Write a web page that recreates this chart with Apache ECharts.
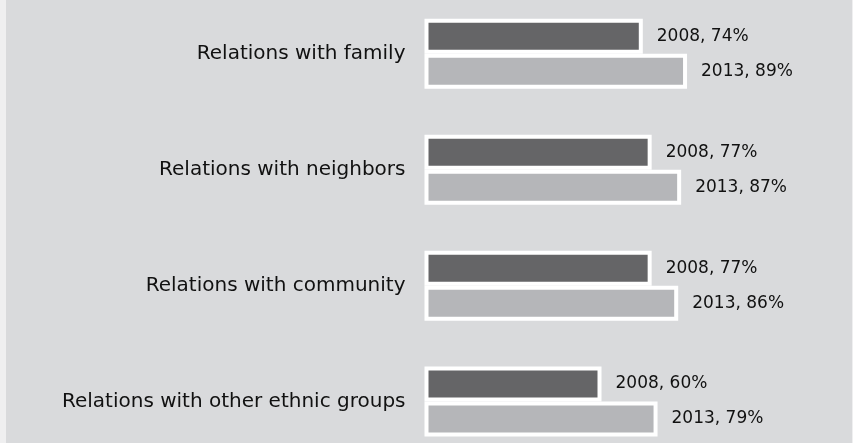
<!DOCTYPE html>
<html>
<head>
<meta charset="utf-8">
<script src="https://cdn.jsdelivr.net/npm/echarts@6/dist/echarts.min.js"></script>
<style>
  html, body { margin: 0; padding: 0; background: #efeff0; height: 443px; overflow: hidden; }
  #chart { position: absolute; left: 6px; top: -10px; width: 846px; height: 480px; }
</style>
</head>
<body>
<div id="chart"></div>
<script>
// Survey results: share of respondents reporting good relations, by year
const categories = [
  'Relations with family',
  'Relations with neighbors',
  'Relations with community',
  'Relations with other ethnic groups'
];
const years = ['2008', '2013'];
const values2008 = [74, 77, 77, 60];
const values2013 = [89, 87, 86, 79];

const chart = echarts.init(document.getElementById('chart'), null, { renderer: 'canvas' });

const font = 'DejaVu Sans';

function barSeries(name, data, color) {
  return {
    name: name,
    type: 'bar',
    data: data,
    barWidth: 35,
    barGap: '0%',
    itemStyle: { color: color, borderColor: '#ffffff', borderWidth: 4 },
    label: {
      show: true,
      position: 'right',
      distance: 14,
      formatter: '{a}, {c}%',
      color: '#111111',
      fontFamily: font,
      fontSize: 17
    },
    emphasis: { disabled: true },
    animation: false
  };
}

chart.setOption({
  backgroundColor: '#d9dadc',
  animation: false,
  grid: { left: 418.5, width: 295, top: 5.9, height: 463.6, containLabel: false },
  xAxis: {
    type: 'value',
    min: 0,
    max: 100,
    show: false,
    splitLine: { show: false }
  },
  yAxis: {
    type: 'category',
    data: categories,
    inverse: true,
    axisLine: { show: false },
    axisTick: { show: false },
    axisLabel: {
      margin: 19,
      color: '#111111',
      fontFamily: font,
      fontSize: 20
    }
  },
  series: [
    barSeries(years[0], values2008, '#656567'),
    barSeries(years[1], values2013, '#b5b6b9')
  ]
});
</script>
</body>
</html>
